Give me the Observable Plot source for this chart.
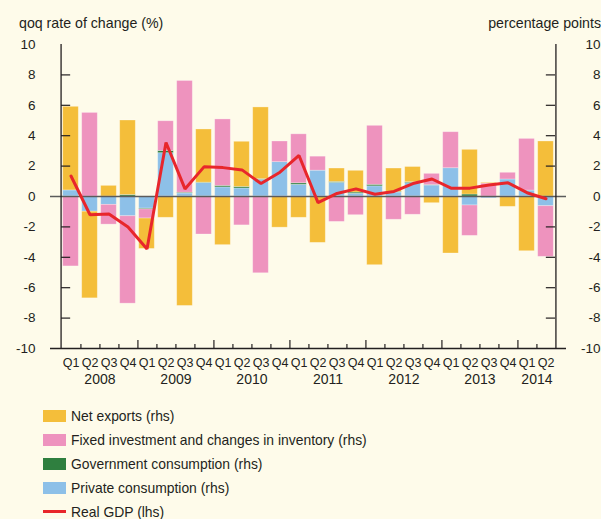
<!DOCTYPE html>
<html><head><meta charset="utf-8">
<script src="https://cdn.jsdelivr.net/npm/d3@7"></script>
<script src="https://cdn.jsdelivr.net/npm/@observablehq/plot@0.6"></script>
<style>
body{margin:0;background:#fefbea;font-family:"Liberation Sans",Arial,Helvetica,sans-serif;color:#231f20;}
#wrap{position:relative;width:601px;height:519px;overflow:hidden;background:#fefbea;}
#chart{position:absolute;left:0;top:0;}
.title{position:absolute;font-size:14.2px;line-height:16px;white-space:nowrap;}
.leg{position:absolute;left:0;font-size:13.9px;line-height:16px;white-space:nowrap;}
.sw{position:absolute;left:43px;width:23px;height:12px;}
.lt{position:absolute;left:71px;}
</style></head><body>
<div id="wrap"><div id="chart"></div></div>
<script>
const quarters = [
  "2008 Q1","2008 Q2","2008 Q3","2008 Q4",
  "2009 Q1","2009 Q2","2009 Q3","2009 Q4",
  "2010 Q1","2010 Q2","2010 Q3","2010 Q4",
  "2011 Q1","2011 Q2","2011 Q3","2011 Q4",
  "2012 Q1","2012 Q2","2012 Q3","2012 Q4",
  "2013 Q1","2013 Q2","2013 Q3","2013 Q4",
  "2014 Q1","2014 Q2"];
const years = ["2008","2009","2010","2011","2012","2013","2014"];
const privateCons = [0.4,-1.0,-0.55,-1.3,-0.8,2.85,0.2,0.88,0.6,0.53,1.1,2.26,0.77,1.7,0.9,0.18,0.67,0.26,0.88,0.72,1.86,-0.59,-0.12,1.12,0.39,-0.64];
const govCons     = [0,0,0,0.1,-0.05,0.15,0.05,0.03,0.1,0.1,0.04,0,0.1,0,0.06,0.08,0.1,0.05,0.06,0.03,0,0.13,0,0,0,0];
const investment  = [-4.6,5.5,-1.3,-5.75,-0.6,1.95,7.35,-2.5,4.37,-1.9,-5.05,1.36,3.22,0.92,-1.67,-1.23,3.88,-1.53,-1.2,0.74,2.37,-2.0,0.85,0.44,3.4,-3.33];
const netExports  = [5.5,-5.7,0.7,4.9,-2.0,-1.4,-7.2,3.5,-3.2,2.97,4.72,-2.05,-1.4,-3.05,0.88,1.43,-4.52,1.53,1.0,-0.44,-3.75,2.94,0.05,-0.68,-3.6,3.62];
const realGDP     = [1.35,-1.2,-1.15,-2.0,-3.45,3.55,0.5,1.95,1.9,1.75,0.85,1.6,2.7,-0.4,0.2,0.5,0.15,0.33,0.85,1.15,0.55,0.55,0.75,0.9,0.25,-0.15];
const yLabels = [-10,-8,-6,-4,-2,0,2,4,6,8,10];
const yTicks = [-8,-6,-4,-2,2,4,6,8];

const seriesNames = ["Private consumption (rhs)","Government consumption (rhs)","Fixed investment and changes in inventory (rhs)","Net exports (rhs)"];
const seriesColors = ["#8dc0e8","#2f7f3f","#ee93be","#f4be3a"];
const seriesValues = [privateCons, govCons, investment, netExports];
const tidy = seriesNames.flatMap((s,k)=>quarters.map((q,i)=>({quarter:q, series:s, value:seriesValues[k][i]})));
const gdp = quarters.map((q,i)=>({quarter:q, value:realGDP[i]}));

const W=601, H=395, mL=50, mR=35, mT=44, mB=47;
const bw = (W-mL-mR)/quarters.length;
const pxPerUnit = (H-mT-mB)/20;

const boundaries = quarters.slice(0,-1).map((q,i)=>({q, len: quarters[i+1].endsWith("Q1") ? 8 : 4}));
const yearData = years.map(y=>{
  const qs = quarters.filter(q=>q.startsWith(y));
  return {year:y, q: qs[Math.floor(qs.length/2)-1]};
});
const fmt = d=>String(d);

const chart = Plot.plot({
  width: W, height: H, marginLeft: mL, marginRight: mR, marginTop: mT, marginBottom: mB,
  style: {background:"transparent", fontFamily:'"Liberation Sans",Arial,sans-serif', fontSize:"13.5px", color:"#231f20"},
  x: {domain: quarters, padding: 0, axis: null},
  y: {domain: [-10,10], axis: null},
  color: {domain: seriesNames, range: seriesColors},
  marks: [
    Plot.barY(tidy, {x:"quarter", y:"value", fill:"series", insetLeft:1.7, insetRight:1.7, stroke:"#ffffff", strokeOpacity:0.35, strokeWidth:0.8}),
    Plot.ruleY([0], {stroke:"#5b5b5b", strokeWidth:1.6}),
    Plot.lineY(gdp, {x:"quarter", y:"value", stroke:"#e8262b", strokeWidth:3, strokeLinejoin:"miter"}),
    Plot.ruleY([-10], {stroke:"#231f20", strokeWidth:1.3}),
    Plot.ruleX([quarters[0]], {dx:-bw/2, y1:-10, y2:10, stroke:"#231f20", strokeWidth:1.3}),
    Plot.ruleX([quarters[quarters.length-1]], {dx:bw/2, y1:-10, y2:10, stroke:"#231f20", strokeWidth:1.3}),
    Plot.tickY(yTicks, {y:d=>d, x:()=>quarters[0], insetRight:bw-10, stroke:"#231f20", strokeWidth:1.2}),
    Plot.tickY(yTicks, {y:d=>d, x:()=>quarters[quarters.length-1], insetLeft:bw-10, stroke:"#231f20", strokeWidth:1.2}),
    Plot.ruleX(boundaries, {x:"q", dx:bw/2, y1:-10, y2:d=>-10 + d.len/pxPerUnit, stroke:"#231f20", strokeWidth:1.2}),
    Plot.axisY({anchor:"left", ticks:yLabels, tickSize:0, tickPadding:15, tickFormat:fmt, label:null}),
    Plot.axisY({anchor:"right", ticks:yLabels, tickSize:0, tickPadding:34, textAnchor:"end", tickFormat:fmt, label:null}),
    Plot.axisX({tickSize:0, tickPadding:10, tickFormat:d=>d.slice(5), label:null, fontFamily:'"Liberation Sans Narrow","Arial Narrow","Liberation Sans",sans-serif', fontSize:12.5}),
    Plot.text(yearData, {x:"q", text:"year", dx:bw/2, frameAnchor:"bottom", dy:35, fill:"#231f20", fontSize:14, letterSpacing:"0.5px"})
  ]
});
const wrap = document.getElementById("wrap");
document.getElementById("chart").appendChild(chart);

function addDiv(cls, css, text){
  const d = document.createElement("div");
  d.className = cls; d.style.cssText = css; if(text) d.textContent = text;
  wrap.appendChild(d); return d;
}
addDiv("title","left:19px;top:15px;","qoq rate of change (%)");
addDiv("title","right:0px;top:15px;","percentage points");

const legendItems = [
  {label:seriesNames[3], color:seriesColors[3]},
  {label:seriesNames[2], color:seriesColors[2]},
  {label:seriesNames[1], color:seriesColors[1]},
  {label:seriesNames[0], color:seriesColors[0]},
  {label:"Real GDP (lhs)", color:"#e8262b", line:true}
];
legendItems.forEach((it,i)=>{
  const cy = 415.5 + i*24.1;
  if(it.line){
    addDiv("sw", `top:${cy-1.5}px;height:3px;background:${it.color};`);
  } else {
    addDiv("sw", `top:${cy-6}px;background:${it.color};`);
  }
  addDiv("leg lt", `top:${cy-8}px;`, it.label);
});
</script>
</body></html>
